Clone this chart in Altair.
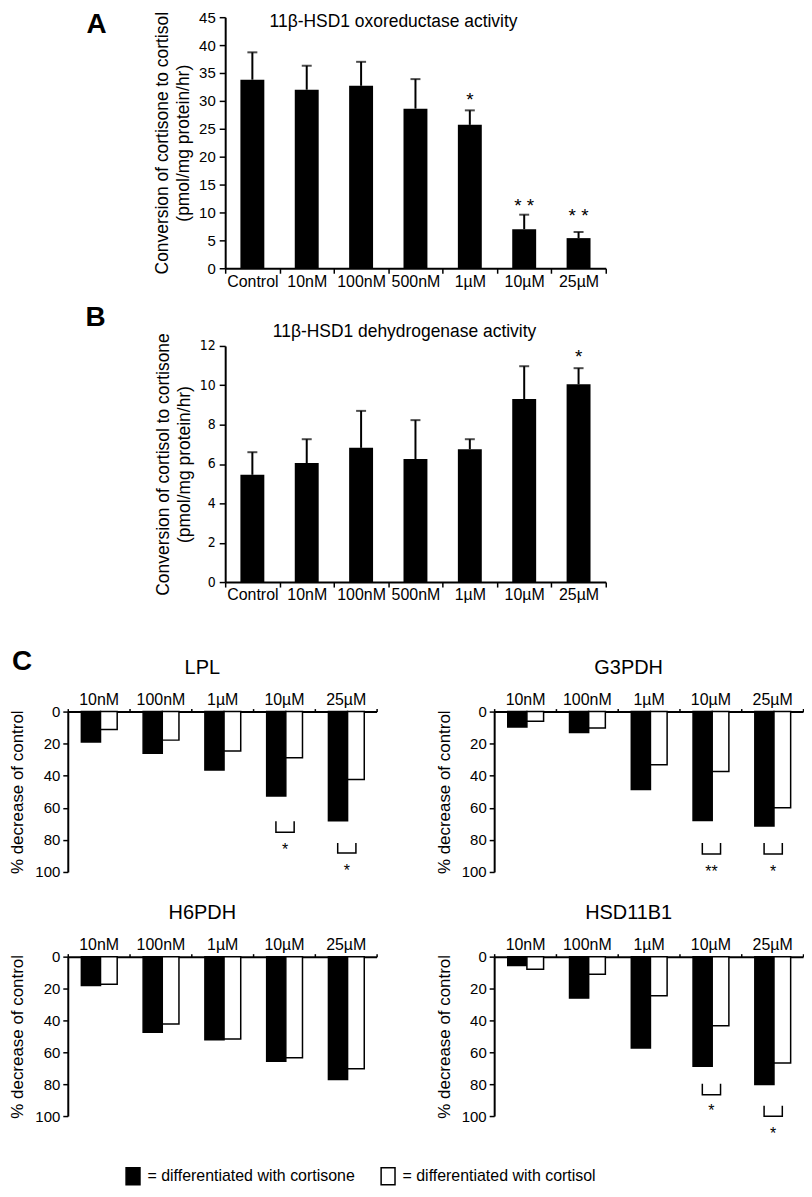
import altair as alt
import pandas as pd

# ---------------- data ----------------
AB_CATS = ["Control", "10nM", "100nM", "500nM", "1µM", "10µM", "25µM"]

A_MEAN = [33.8, 32.0, 32.7, 28.6, 25.7, 7.0, 5.4]
A_ERR_TOP = [38.7, 36.3, 37.0, 33.9, 28.3, 9.6, 6.5]
A_SIG = ["", "", "", "", "*", "* *", "* *"]
A_SIG_Y = [0, 0, 0, 0, 31.1, 12.1, 10.2]

B_MEAN = [5.45, 6.05, 6.82, 6.25, 6.75, 9.3, 10.05]
B_ERR_TOP = [6.6, 7.26, 8.7, 8.23, 7.26, 10.97, 10.87]
B_SIG = ["", "", "", "", "", "", "*"]
B_SIG_Y = [0, 0, 0, 0, 0, 0, 11.7]

C_CATS = ["10nM", "100nM", "1µM", "10µM", "25µM"]
SERIES = ["cortisone", "cortisol"]

LPL_CORTISONE = [19.0, 26.0, 36.4, 52.6, 68.1]
LPL_CORTISOL = [11.2, 17.8, 24.6, 28.8, 42.4]
G3PDH_CORTISONE = [9.6, 13.1, 48.6, 67.9, 71.4]
G3PDH_CORTISOL = [6.0, 10.2, 33.1, 37.3, 60.0]
H6PDH_CORTISONE = [18.1, 47.5, 52.1, 65.6, 77.1]
H6PDH_CORTISOL = [17.3, 42.3, 51.7, 63.5, 70.4]
HSD_CORTISONE = [5.6, 26.0, 57.3, 68.8, 80.2]
HSD_CORTISOL = [7.9, 11.0, 24.6, 43.3, 66.7]

# significance brackets: category, bracket top, bracket bottom, star level, label
LPL_SIG_CAT = ["10µM", "25µM"]
LPL_SIG_TOP = [68.3, 82.0]
LPL_SIG_BOT = [75.2, 88.2]
LPL_SIG_STAR = [83.7, 97.0]
LPL_SIG_TXT = ["*", "*"]

G3PDH_SIG_CAT = ["10µM", "25µM"]
G3PDH_SIG_TOP = [81.9, 81.9]
G3PDH_SIG_BOT = [88.8, 88.8]
G3PDH_SIG_STAR = [97.7, 97.7]
G3PDH_SIG_TXT = ["**", "*"]

HSD_SIG_CAT = ["10µM", "25µM"]
HSD_SIG_TOP = [79.8, 93.5]
HSD_SIG_BOT = [86.7, 100.2]
HSD_SIG_STAR = [94.6, 109.0]
HSD_SIG_TXT = ["*", "*"]

# ---------------- style ----------------
FONT = "Liberation Sans, Arial, Helvetica, sans-serif"
NARROW = "Liberation Sans Narrow, DejaVu Sans Condensed, Liberation Sans, sans-serif"

COL_GAP = 118
W0 = 310           # width of the left column cells
W1 = 310           # width of the right column cells
AB_X0 = 158        # left edge of panels A/B plot inside the left column
AB_W = 382         # plot width of panels A/B


def js_list(items):
    return "[" + ",".join("'" + s + "'" for s in items) + "]"


def cat_label_expr(items):
    # boundary ticks 0..n; label k sits to the left of boundary k (shifted by labelOffset)
    return f"datum.value > 0 ? {js_list(items)}[datum.value - 1] : ''"


def letter_mark(letter, lx, ly):
    return alt.Chart(pd.DataFrame({"t": [letter]})).mark_text(
        fontSize=28, fontWeight="bold", font=FONT, color="black",
        align="center", baseline="middle").encode(
        text="t:N", x=alt.value(lx), y=alt.value(ly))


def activity_chart(means, err_top, sig, sig_y, ymax, ystep, height,
                   title, title_dx, title_offset, ytitle,
                   ylabel_font, ylabel_size, letter=None):
    n = len(AB_CATS)
    df = pd.DataFrame({"cat": AB_CATS, "idx": list(range(n)), "mean": means,
                       "err": err_top, "sig": sig, "sig_y": sig_y})
    df["xc"] = df["idx"] + 0.5
    df["x0"] = df["xc"] - 0.22
    df["x1"] = df["xc"] + 0.22
    df["zero"] = 0.0

    xscale = alt.Scale(domain=[0, n], nice=False, zero=False, range=[AB_X0, AB_X0 + AB_W])
    yscale = alt.Scale(domain=[0, ymax], nice=False)
    xaxis = alt.Axis(values=list(range(n + 1)), labelExpr=cat_label_expr(AB_CATS),
                     labelOffset=-AB_W / n / 2, tickSize=5, labelPadding=0,
                     labelFontSize=16, labelFont=FONT)
    yaxis = alt.Axis(values=list(range(0, ymax + 1, ystep)), tickSize=6, offset=-AB_X0,
                     labelPadding=4, labelFontSize=ylabel_size, labelFont=ylabel_font,
                     titleFontSize=17.5, titleLineHeight=21, titlePadding=6)

    def X(f):
        return alt.X(f, scale=xscale, axis=xaxis, title=None)

    def Y(f):
        return alt.Y(f, scale=yscale, axis=yaxis, title=ytitle)

    base = alt.Chart(df)
    bars = base.mark_bar(color="black").encode(x=X("x0:Q"), x2="x1:Q", y=Y("mean:Q"), y2="zero:Q")
    err = base.mark_rule(color="black", strokeWidth=2).encode(x=X("xc:Q"), y=Y("mean:Q"), y2="err:Q")
    caps = base.mark_tick(orient="horizontal", size=10, thickness=2, color="black").encode(
        x=X("xc:Q"), y=Y("err:Q"))
    stars = alt.Chart(df[df["sig"] != ""]).mark_text(
        fontSize=19, font=FONT, color="black", baseline="middle", dy=5).encode(
        x=X("xc:Q"), y=Y("sig_y:Q"), text="sig:N")
    layers = [bars, err, caps, stars]
    if letter is not None:
        layers.append(letter_mark(letter, 29, 8))
    return alt.layer(*layers).properties(
        width=W0, height=height,
        title=alt.TitleParams(title, fontSize=17.5, font=FONT, fontWeight="normal",
                              anchor="middle", frame="group", baseline="middle",
                              dx=title_dx, offset=title_offset, color="black"))


def gene_chart(name, cortisone, cortisol, sig_cat, sig_top, sig_bot, sig_star, sig_txt,
               width, height, legend=None):
    n = len(C_CATS)
    rows = []
    for i, c in enumerate(C_CATS):
        rows.append({"cat": c, "series": "cortisone", "val": cortisone[i],
                     "x0": i + 0.22, "x1": i + 0.53, "zero": 0.0})
        rows.append({"cat": c, "series": "cortisol", "val": cortisol[i],
                     "x0": i + 0.53, "x1": i + 0.80, "zero": 0.0})
    df = pd.DataFrame(rows)

    brows, srows = [], []
    for k, c in enumerate(sig_cat):
        i = C_CATS.index(c)
        xl, xr = i + 0.37, i + 0.665
        for o, (xx, yy) in enumerate([(xl, sig_top[k]), (xl, sig_bot[k]),
                                      (xr, sig_bot[k]), (xr, sig_top[k])]):
            brows.append({"b": k, "o": o, "x": xx, "y": yy})
        srows.append({"x": (xl + xr) / 2, "y": sig_star[k], "t": sig_txt[k]})
    bdf = pd.DataFrame(brows, columns=["b", "o", "x", "y"])
    sdf = pd.DataFrame(srows, columns=["x", "y", "t"])

    xscale = alt.Scale(domain=[0, n], nice=False, zero=False)
    yscale = alt.Scale(domain=[0, 100], nice=False, reverse=True)
    xaxis = alt.Axis(orient="top", values=list(range(n + 1)), labelExpr=cat_label_expr(C_CATS),
                     labelOffset=-width / n / 2, tickSize=3, labelPadding=1,
                     labelFontSize=16, labelFont=FONT)
    yaxis = alt.Axis(values=list(range(0, 101, 20)), tickSize=5, labelPadding=3,
                     labelFontSize=15, titleFontSize=17, titlePadding=8)
    ytitle = "% decrease  of control"

    def X(f):
        return alt.X(f, scale=xscale, axis=xaxis, title=None)

    def Y(f):
        return alt.Y(f, scale=yscale, axis=yaxis, title=ytitle)

    color = alt.Color("series:N",
                      scale=alt.Scale(domain=SERIES, range=["black", "white"]),
                      legend=legend)
    bars = alt.Chart(df).mark_bar(stroke="black", strokeWidth=1.5).encode(
        x=X("x0:Q"), x2="x1:Q", y=Y("val:Q"), y2="zero:Q", color=color)
    layers = [bars]
    if len(bdf):
        layers.append(alt.Chart(bdf).mark_line(color="black", strokeWidth=1.5).encode(
            x=X("x:Q"), y=Y("y:Q"), detail="b:N", order="o:Q"))
        layers.append(alt.Chart(sdf).mark_text(fontSize=16, font=FONT, color="black",
                                               baseline="middle", dy=4).encode(
            x=X("x:Q"), y=Y("y:Q"), text="t:N"))
    return alt.layer(*layers).properties(
        width=width, height=height,
        title=alt.TitleParams(name, fontSize=20, font=FONT, fontWeight="normal",
                              anchor="middle", frame="group", baseline="middle",
                              dx=-20, offset=4, color="black"))


def gap(h, letter=None, lx=0, ly=0):
    base = alt.Chart(pd.DataFrame({"t": [""]})).mark_text(opacity=0).encode(text="t:N")
    if letter is None:
        return base.properties(width=1, height=h)
    return alt.layer(base, letter_mark(letter, lx, ly)).properties(width=1, height=h)


A_H, B_H = 252, 237
GAP_AB, GAP_BC, GAP_CC = 78, 130, 85

chartA = activity_chart(A_MEAN, A_ERR_TOP, A_SIG, A_SIG_Y, 45, 5, A_H,
                        "11β-HSD1 oxoreductase activity", 172, -29,
                        ["Conversion of cortisone to cortisol", "(pmol/mg protein/hr)"],
                        FONT, 15, letter="A")
chartB = activity_chart(B_MEAN, B_ERR_TOP, B_SIG, B_SIG_Y, 12, 2, B_H,
                        "11β-HSD1 dehydrogenase activity", 183, -17,
                        ["Conversion of cortisol to cortisone", "(pmol/mg protein/hr)"],
                        NARROW, 14)

legend = alt.Legend(orient="none", legendX=56, legendY=211, direction="horizontal",
                    title=None, symbolType="M-0.82,-1H0.82V1H-0.82Z", symbolSize=289,
                    symbolStrokeColor="black", symbolStrokeWidth=1.5,
                    labelFontSize=16, labelFont=FONT, labelColor="black",
                    labelExpr="'= differentiated with ' + datum.label",
                    columnPadding=22, labelOffset=5, padding=0, labelLimit=500)

lpl = gene_chart("LPL", LPL_CORTISONE, LPL_CORTISOL, LPL_SIG_CAT, LPL_SIG_TOP, LPL_SIG_BOT,
                 LPL_SIG_STAR, LPL_SIG_TXT, W0, 161)
g3 = gene_chart("G3PDH", G3PDH_CORTISONE, G3PDH_CORTISOL, G3PDH_SIG_CAT, G3PDH_SIG_TOP,
                G3PDH_SIG_BOT, G3PDH_SIG_STAR, G3PDH_SIG_TXT, W1, 161)
h6 = gene_chart("H6PDH", H6PDH_CORTISONE, H6PDH_CORTISOL, [], [], [], [], [],
                W0, 160, legend=legend)
hsd = gene_chart("HSD11B1", HSD_CORTISONE, HSD_CORTISOL, HSD_SIG_CAT, HSD_SIG_TOP,
                 HSD_SIG_BOT, HSD_SIG_STAR, HSD_SIG_TXT, W1, 160)

cells = [
    chartA, gap(A_H),
    gap(GAP_AB, "B", 28, GAP_AB - 28), gap(GAP_AB),
    chartB, gap(B_H),
    gap(GAP_BC, "C", -46, GAP_BC - 50), gap(GAP_BC),
    lpl, g3,
    gap(GAP_CC), gap(GAP_CC),
    h6, hsd,
]

chart = alt.concat(
    *cells, columns=2, bounds="flush",
    spacing={"row": 0, "column": COL_GAP},
    align="each",
).resolve_legend(color="independent").properties(padding=0).configure(
    font=FONT).configure_view(stroke=None).configure_axis(
    grid=False, domainColor="black", tickColor="black", labelColor="black",
    titleColor="black", labelFont=FONT, titleFont=FONT, titleFontWeight="normal",
    domainWidth=2, tickWidth=1.5, labelFlush=False, labelOverlap=False)

chart.save("out.html", embed_options={"renderer": "svg", "actions": False})
